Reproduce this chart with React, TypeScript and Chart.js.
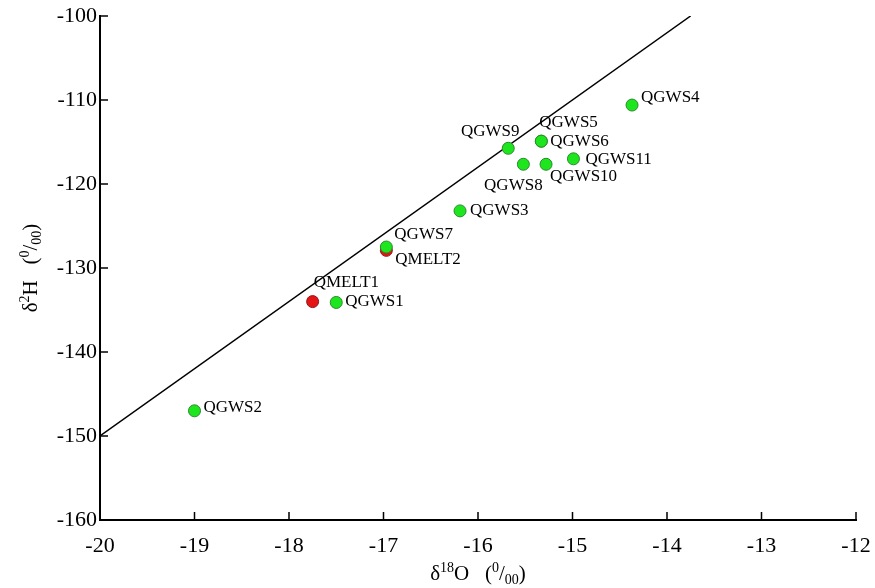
import { useEffect, useRef } from 'react';
import { Chart, registerables } from 'chart.js';

Chart.register(...registerables);

// Groundwater samples: δ18O and δ2H (‰)
const groundwaterNames = ['QGWS1', 'QGWS2', 'QGWS3', 'QGWS4', 'QGWS5', 'QGWS6', 'QGWS7', 'QGWS8', 'QGWS9', 'QGWS10', 'QGWS11'];
const groundwaterO18 = [-17.5, -19.0, -16.19, -14.37, -15.33, -15.33, -16.97, -15.52, -15.68, -15.28, -14.99];
const groundwaterH2 = [-134.1, -147.0, -123.2, -110.6, -114.9, -114.9, -127.5, -117.65, -115.75, -117.65, -117.0];

// Snow-melt samples
const meltNames = ['QMELT1', 'QMELT2'];
const meltO18 = [-17.75, -16.97];
const meltH2 = [-134.0, -127.9];

// Global meteoric water line end points (δ2H = 8·δ18O + 10)
const gmwlO18 = [-20, -13.75];
const gmwlH2 = [-150, -100];

// Axis ranges
const xRange = [-20, -12];
const yRange = [-160, -100];

// Where each name sits relative to its marker (pixels)
const labelPlacement: Record<string, { dx: number; dy: number; align: CanvasTextAlign }> = {
  QGWS1: { dx: 9, dy: -1, align: 'left' },
  QGWS2: { dx: 9, dy: -3, align: 'left' },
  QGWS3: { dx: 10, dy: 0, align: 'left' },
  QGWS4: { dx: 9, dy: -8, align: 'left' },
  QGWS5: { dx: -2, dy: -19, align: 'left' },
  QGWS6: { dx: 9, dy: 0, align: 'left' },
  QGWS7: { dx: 8, dy: -12, align: 'left' },
  QGWS8: { dx: -10, dy: 21, align: 'center' },
  QGWS9: { dx: -18, dy: -17, align: 'center' },
  QGWS10: { dx: 4, dy: 12, align: 'left' },
  QGWS11: { dx: 12, dy: 1, align: 'left' },
  QMELT1: { dx: 1, dy: -19, align: 'left' },
  QMELT2: { dx: 9, dy: 9, align: 'left' },
};

const SERIF = '"Liberation Serif", "Times New Roman", serif';

type Seg = { t: string; size: number; shift: number };

function drawRich(ctx: CanvasRenderingContext2D, segs: Seg[], cx: number, baseline: number) {
  let total = 0;
  for (const s of segs) {
    ctx.font = `${s.size}px ${SERIF}`;
    total += ctx.measureText(s.t).width;
  }
  let x = cx - total / 2;
  ctx.textAlign = 'left';
  ctx.textBaseline = 'alphabetic';
  for (const s of segs) {
    ctx.font = `${s.size}px ${SERIF}`;
    ctx.fillText(s.t, x, baseline + s.shift);
    x += ctx.measureText(s.t).width;
  }
}

const permil = (): Seg[] => [
  { t: '(', size: 21, shift: 0 },
  { t: '0', size: 14, shift: -8 },
  { t: '/', size: 21, shift: 0 },
  { t: '00', size: 14, shift: 4 },
  { t: ')', size: 21, shift: 0 },
];

const decorations = {
  id: 'decorations',
  afterDraw(chart: Chart) {
    const ctx = chart.ctx;
    const xs = chart.scales.x;
    const ys = chart.scales.y;
    const area = chart.chartArea;
    ctx.save();
    // inward tick marks
    ctx.strokeStyle = '#000';
    ctx.lineWidth = 1.5;
    ctx.beginPath();
    for (const t of xs.ticks) {
      const px = xs.getPixelForValue(t.value);
      ctx.moveTo(px, area.bottom);
      ctx.lineTo(px, area.bottom - 8);
    }
    for (const t of ys.ticks) {
      const py = ys.getPixelForValue(t.value);
      ctx.moveTo(area.left, py);
      ctx.lineTo(area.left + 8, py);
    }
    ctx.stroke();

    ctx.fillStyle = '#000';
    // x title: δ18O (0/00)
    drawRich(
      ctx,
      [
        { t: 'δ', size: 21, shift: 0 },
        { t: '18', size: 14, shift: -8 },
        { t: 'O', size: 21, shift: 0 },
        { t: '   ', size: 21, shift: 0 },
        ...permil(),
      ],
      (area.left + area.right) / 2,
      580
    );
    // y title: δ2H (0/00)
    ctx.translate(37, (area.top + area.bottom) / 2);
    ctx.rotate(-Math.PI / 2);
    drawRich(
      ctx,
      [
        { t: 'δ', size: 21, shift: 0 },
        { t: '2', size: 14, shift: -8 },
        { t: 'H', size: 21, shift: 0 },
        { t: '   ', size: 21, shift: 0 },
        ...permil(),
      ],
      0,
      0
    );
    ctx.restore();
  },
  afterDatasetsDraw(chart: Chart) {
    const ctx = chart.ctx;
    ctx.save();
    ctx.fillStyle = '#000';
    ctx.font = `17px ${SERIF}`;
    ctx.textBaseline = 'middle';
    const groups: [number, string[]][] = [
      [1, groundwaterNames],
      [2, meltNames],
    ];
    for (const [di, names] of groups) {
      const meta = chart.getDatasetMeta(di);
      meta.data.forEach((el: any, i: number) => {
        const p = labelPlacement[names[i]];
        ctx.textAlign = p.align;
        ctx.fillText(names[i], el.x + p.dx, el.y + p.dy);
      });
    }
    ctx.restore();
  },
};

export default function App() {
  const ref = useRef<HTMLCanvasElement>(null);

  useEffect(() => {
    const chart = new Chart(ref.current!, {
      type: 'scatter',
      data: {
        datasets: [
          {
            type: 'line',
            label: 'GMWL',
            data: gmwlO18.map((x, i) => ({ x, y: gmwlH2[i] })),
            borderColor: '#000',
            borderWidth: 1.5,
            pointRadius: 0,
            fill: false,
            order: 3,
          },
          {
            label: 'Groundwater',
            data: groundwaterO18.map((x, i) => ({ x, y: groundwaterH2[i] })),
            backgroundColor: '#1ee61e',
            borderColor: '#2a8a2a',
            borderWidth: 1,
            pointRadius: 6,
            order: 1,
          },
          {
            label: 'Snow melt',
            data: meltO18.map((x, i) => ({ x, y: meltH2[i] })),
            backgroundColor: '#e61414',
            borderColor: '#8a1a1a',
            borderWidth: 1,
            pointRadius: 6,
            order: 2,
          },
        ],
      },
      options: {
        animation: false,
        responsive: true,
        maintainAspectRatio: false,
        layout: { padding: { top: 16, right: 19, left: 0, bottom: 0 } },
        plugins: { legend: { display: false }, tooltip: { enabled: false } },
        scales: {
          x: {
            type: 'linear',
            min: xRange[0],
            max: xRange[1],
            grid: { display: false, drawTicks: false },
            border: { display: true, color: '#000', width: 2 },
            ticks: {
              stepSize: 1,
              color: '#000',
              padding: 13,
              font: { family: SERIF, size: 22 },
              callback: (v: any) => String(v),
            },
            afterFit: (s: any) => {
              s.height = 68;
              s.paddingLeft = 0;
              s.paddingRight = 0;
            },
          },
          y: {
            type: 'linear',
            min: yRange[0],
            max: yRange[1],
            grid: { display: false, drawTicks: false },
            border: { display: true, color: '#000', width: 2 },
            ticks: {
              stepSize: 10,
              color: '#000',
              padding: 3,
              font: { family: SERIF, size: 22 },
              callback: (v: any) => String(v),
            },
            afterFit: (s: any) => {
              s.width = 100;
              s.paddingTop = 0;
              s.paddingBottom = 0;
            },
          },
        },
      },
      plugins: [decorations],
    });
    return () => chart.destroy();
  }, []);

  return (
    <div style={{ position: 'fixed', left: 0, top: 0, width: 875, height: 588, background: '#fff' }}>
      <canvas ref={ref} />
    </div>
  );
}
